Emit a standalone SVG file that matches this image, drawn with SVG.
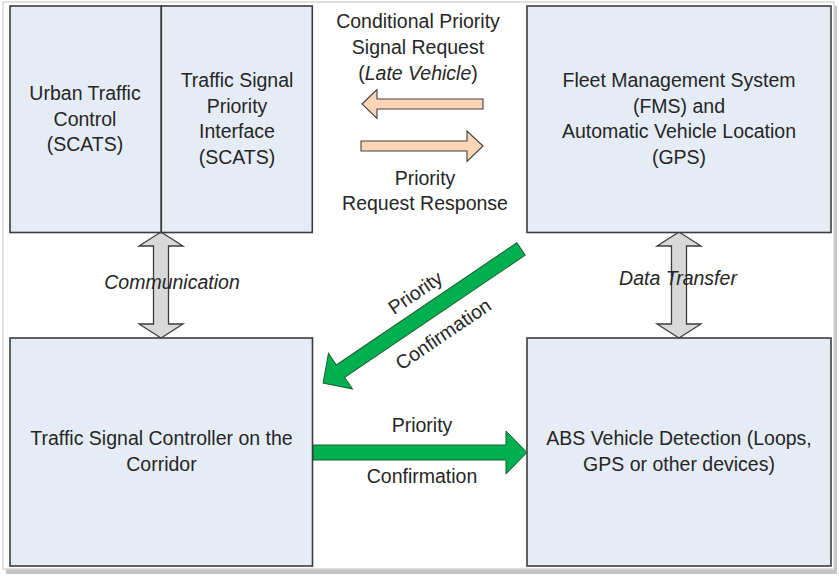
<svg xmlns="http://www.w3.org/2000/svg" width="839" height="577" viewBox="0 0 839 577">
<style>
text{font-family:"Liberation Sans",Arial,sans-serif;font-size:19.5px;fill:#262626;text-anchor:middle}
.it{font-style:italic}
.box{fill:#E5ECF6;stroke:#3c3c3c;stroke-width:1.6}
.gray{fill:#D9D9D9;stroke:#3c3c3c;stroke-width:1.3}
.peach{fill:#FBD5B5;stroke:#404040;stroke-width:1.1}
.green{fill:#00B050;stroke:#1d5e2e;stroke-width:1}
</style>
<rect width="839" height="577" fill="#ffffff"/>
<rect x="6" y="6" width="831" height="568" fill="#c4c4c4"/>
<rect x="3" y="2" width="831" height="567" fill="#ffffff" stroke="#d6d6d6" stroke-width="1.5"/>

<g id="connectors">
  <polygon class="gray" points="161,232 183,246 168.5,246 168.5,324 183,324 161,338 139,324 153.5,324 153.5,246 139,246"/>
  <polygon class="gray" points="679,232 701,246 686.5,246 686.5,324 701,324 679,338 657,324 671.5,324 671.5,246 657,246"/>
  <polygon class="peach" points="362,104 377,89.5 377,99 483,99 483,109 377,109 377,118.5"/>
  <polygon class="peach" points="483,146 467,131 467,141 361,141 361,151 467,151 467,161.5"/>
  <polygon class="green" points="313,445 506,445 506,431 527,452.5 506,474 506,460 313,460"/>
  <polygon class="green" transform="translate(521,249) rotate(145.9)" points="0,-7.5 218,-7.5 218,-21.5 239,0 218,21.5 218,7.5 0,7.5"/>
  <text class="it" x="172" y="289">Communication</text>
  <text class="it" x="678" y="285">Data Transfer</text>
  <text x="418" y="28">Conditional Priority</text>
  <text x="418" y="54">Signal Request</text>
  <text x="418" y="79.5">(<tspan class="it">Late Vehicle</tspan>)</text>
  <text x="425" y="185">Priority</text>
  <text x="425" y="210">Request Response</text>
  <text x="422" y="432">Priority</text>
  <text x="422" y="483">Confirmation</text>
  <g transform="translate(428,311.5) rotate(-34.1)">
    <text x="0" y="-16">Priority</text>
    <text x="0" y="34">Confirmation</text>
  </g>
</g>

<g id="utc">
  <rect class="box" x="10" y="6" width="151.3" height="226.5"/>
  <text x="85" y="100">Urban Traffic</text>
  <text x="85" y="125.5">Control</text>
  <text x="85" y="151">(SCATS)</text>
</g>
<g id="tspi">
  <rect class="box" x="161.3" y="6" width="151" height="226.5"/>
  <text x="237" y="87">Traffic Signal</text>
  <text x="237" y="112.5">Priority</text>
  <text x="237" y="138">Interface</text>
  <text x="237" y="163.5">(SCATS)</text>
</g>
<g id="fms">
  <rect class="box" x="527" y="6" width="304" height="226.5"/>
  <text x="679" y="87">Fleet Management System</text>
  <text x="679" y="112.5">(FMS) and</text>
  <text x="679" y="138">Automatic Vehicle Location</text>
  <text x="679" y="163.5">(GPS)</text>
</g>
<g id="tsc">
  <rect class="box" x="10" y="338" width="302.5" height="228"/>
  <text x="161.5" y="445">Traffic Signal Controller on the</text>
  <text x="161.5" y="471">Corridor</text>
</g>
<g id="abs">
  <rect class="box" x="527" y="338" width="304" height="228"/>
  <text x="679" y="445">ABS Vehicle Detection (Loops,</text>
  <text x="679" y="471">GPS or other devices)</text>
</g>
</svg>
